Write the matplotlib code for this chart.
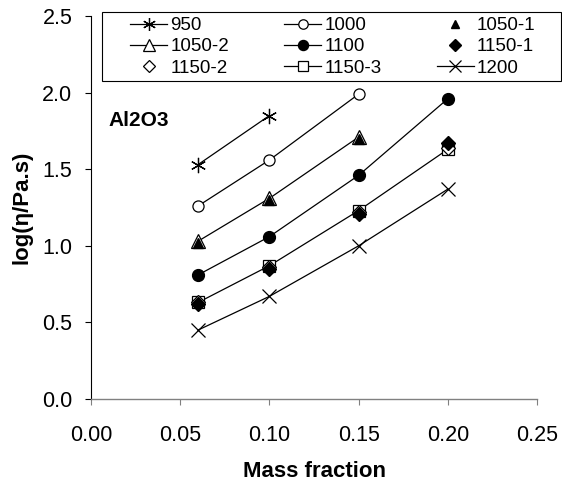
import matplotlib
matplotlib.use("Agg")
import matplotlib.pyplot as plt
from matplotlib.patches import Rectangle

plt.rcParams["font.family"] = ["Liberation Sans", "DejaVu Sans"]

# log viscosity vs. mass fraction of Al2O3 at several temperatures
x2 = [0.06, 0.10]
x3 = [0.06, 0.10, 0.15]
x4 = [0.06, 0.10, 0.15, 0.20]

y_950 = [1.53, 1.85]
y_1000 = [1.26, 1.56, 1.99]
y_1050_1 = [1.02, 1.30, 1.70]
y_1050_2 = [1.03, 1.31, 1.71]
y_1100 = [0.81, 1.06, 1.46, 1.96]
y_1150_1 = [0.62, 0.85, 1.21, 1.67]
y_1150_2 = [0.63, 0.86, 1.22, 1.64]
y_1150_3 = [0.63, 0.87, 1.23, 1.63]
y_1200 = [0.45, 0.67, 1.00, 1.37]

fig = plt.figure(figsize=(5.62, 4.84), dpi=100)
ax = fig.add_axes([0.162, 0.1756, 0.7936, 0.7914])

lw = 0.9
h = {}
h["950"], = ax.plot(x2, y_950, "k-", lw=lw, marker=(6, 2, 0), ms=11, mew=0.9)
h["1000"], = ax.plot(x3, y_1000, "k-", lw=lw, marker="o", ms=8, mfc="white", mew=0.9)
h["1050-2"], = ax.plot(x3, y_1050_2, "k-", lw=lw, marker="^", ms=9.5, mfc="white", mew=0.9)
h["1050-1"], = ax.plot(x3, y_1050_1, "k", ls="none", marker="^", ms=7.5)
h["1100"], = ax.plot(x4, y_1100, "k-", lw=lw, marker="o", ms=8.5)
h["1150-3"], = ax.plot(x4, y_1150_3, "k-", lw=lw, marker="s", ms=8, mfc="white", mew=0.9)
h["1150-2"], = ax.plot(x4, y_1150_2, "k", ls="none", marker="D", ms=7, mfc="white", mew=0.9)
h["1150-1"], = ax.plot(x4, y_1150_1, "k", ls="none", marker="D", ms=7)
h["1200"], = ax.plot(x4, y_1200, "k-", lw=lw, marker="x", ms=10, mew=0.9)

ax.set_xlim(0, 0.25)
ax.set_ylim(0, 2.5)
ax.set_xticks([0.0, 0.05, 0.10, 0.15, 0.20, 0.25])
ax.set_yticks([0.0, 0.5, 1.0, 1.5, 2.0, 2.5])
ax.set_xticklabels(["0.00", "0.05", "0.10", "0.15", "0.20", "0.25"])
ax.set_yticklabels(["0.0", "0.5", "1.0", "1.5", "2.0", "2.5"])
ax.tick_params(direction="out", length=4.5, width=0.8, labelsize=15.5)
ax.tick_params(axis="x", pad=14, color="#808080")
ax.tick_params(axis="y", pad=9)
for side in ("top", "right"):
    ax.spines[side].set_visible(False)
ax.spines["left"].set_linewidth(0.8)
ax.spines["bottom"].set_linewidth(1.0)
ax.spines["bottom"].set_color("#808080")

ax.set_xlabel("Mass fraction", fontsize=16, fontweight="bold")
ax.set_ylabel("log(η/Pa.s)", fontsize=16, fontweight="bold")
ax.xaxis.set_label_coords(0.5, -0.162)
ax.yaxis.set_label_coords(-0.132, 0.5)

ax.text(0.0095, 1.815, "Al2O3", fontsize=15, fontweight="bold", va="center", ha="left")

# legend box, with the entries placed inside it
fig.patches.append(Rectangle((102 / 562, 1 - 81 / 484), 459 / 562, 69 / 484,
                             transform=fig.transFigure, fill=False,
                             edgecolor="black", lw=0.8))

# legend is filled column by column, so order the entries to read row-wise
order = ["950", "1050-2", "1150-2",
         "1000", "1100", "1150-3",
         "1050-1", "1150-1", "1200"]
leg = fig.legend([h[k] for k in order], order, ncol=3, fontsize=13.5,
                 loc="upper left", bbox_to_anchor=(130 / 562, 1 - 17 / 484),
                 frameon=False, borderaxespad=0, borderpad=0,
                 handlelength=1.98, handletextpad=0.16,
                 columnspacing=2.95, labelspacing=0.22, markerscale=0.85)

fig.savefig("out.png", dpi=100)
